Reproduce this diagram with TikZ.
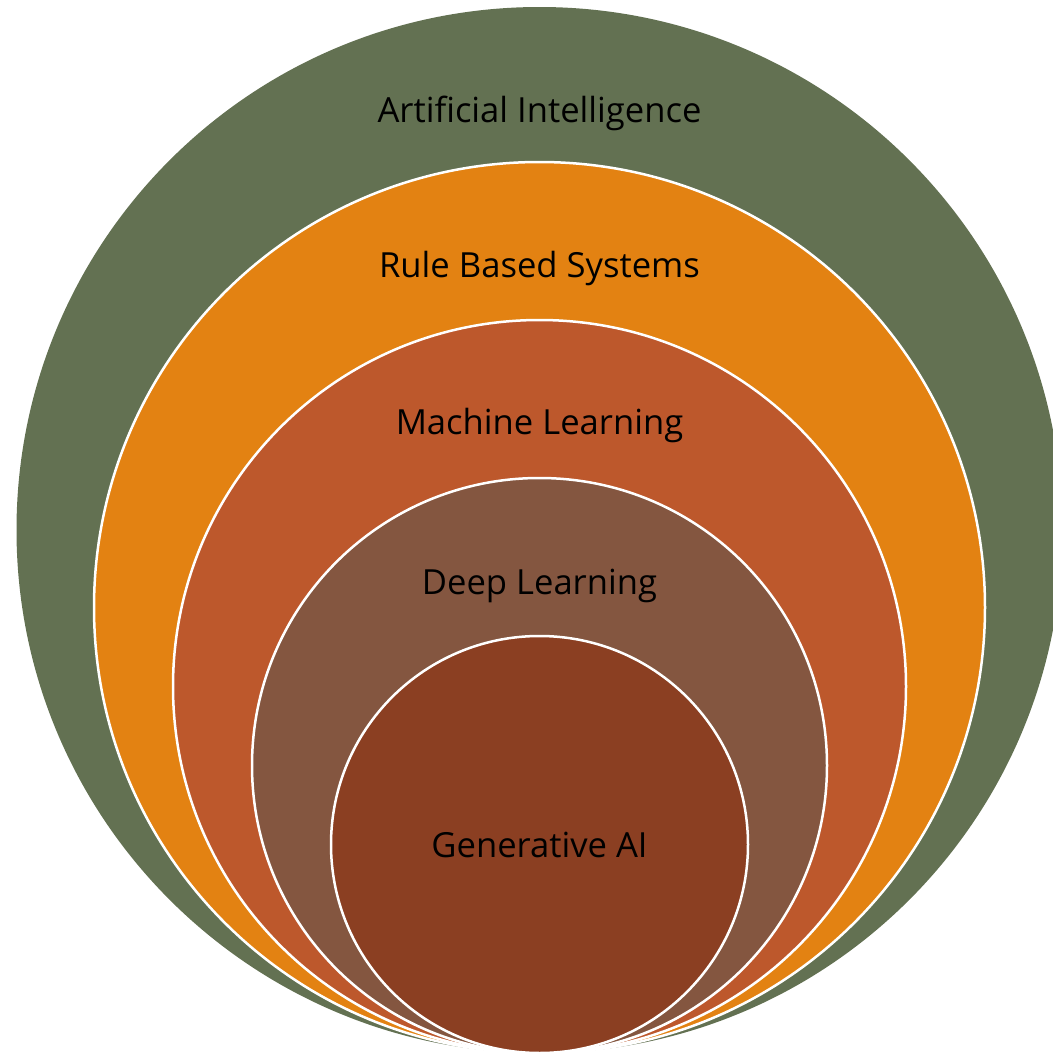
\documentclass[tikz,border=0pt]{standalone}
\usepackage{fontspec}
\setmainfont{Open Sans}
\definecolor{aigreen}{HTML}{637152}
\definecolor{rborange}{HTML}{E38212}
\definecolor{mlrust}{HTML}{BD582C}
\definecolor{dlbrown}{HTML}{845640}
\definecolor{genbrown}{HTML}{8B3F22}
\tikzset{
  ring/.style={draw=white, line width=2.5pt},
  lbl/.style={anchor=base, font=\fontsize{34.6}{40}\selectfont, text=black, inner sep=0pt}
}
\begin{document}
\begin{tikzpicture}[x=1pt,y=-1pt]
\useasboundingbox (0,0) rectangle (1053,1052);
\begin{scope}
\clip (0,0) rectangle (1053,1052);
\fill[aigreen] (539.5,530) circle (523);
\filldraw[ring, fill=rborange] (539.5,607.5) circle (445.5);
\filldraw[ring, fill=mlrust] (539.5,686.5) circle (366.5);
\filldraw[ring, fill=dlbrown] (539.5,765.5) circle (287.5);
\filldraw[ring, fill=genbrown] (539.5,844.5) circle (208.5);
\end{scope}
\node[lbl] (ai) at (539.5,122) {Artificial Intelligence};
\node[lbl] (rbs) at (539.5,277) {Rule Based Systems};
\node[lbl] (ml) at (539.5,434) {Machine Learning};
\node[lbl] (dl) at (539.5,594) {Deep Learning};
\node[lbl] (gen) at (539.5,857) {Generative AI};
\end{tikzpicture}
\end{document}
